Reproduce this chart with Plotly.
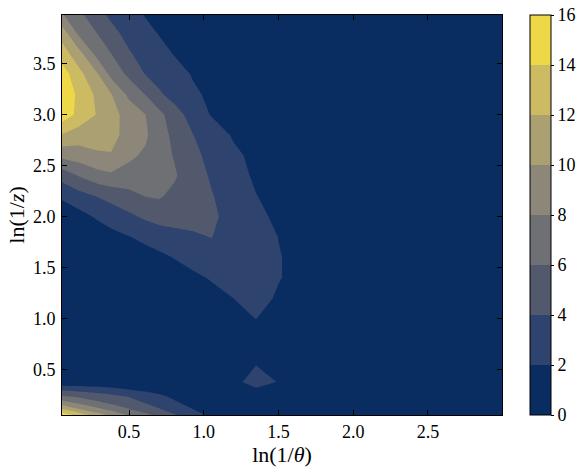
import plotly.graph_objects as go
from plotly.colors import sample_colorscale

# grid: columns are ln(1/theta), rows are ln(1/z)
x_ln_inv_theta = [0.051, 0.16, 0.29, 0.38, 0.50, 0.61, 0.70, 0.80, 0.93, 1.05, 1.20, 1.35, 1.50, 1.90, 2.996]
y_ln_inv_z = [0.05, 0.11, 0.17, 0.23, 0.30, 0.375, 0.60, 0.80, 1.20, 1.40, 1.60, 1.80,
              2.00, 2.20, 2.40, 2.60, 2.80, 3.00, 3.20, 3.40, 3.60, 3.80, 3.98]

# one row of estimated values per ln(1/z) level
z_y0_05 = [15.3, 13.4, 10.95, 9.47, 7.77, 6.51, 5.45, 4.24, 2.84, 1.58, 1.0, 0.6, 0.5, 0.3, 0.2]
z_y0_11 = [11.95, 10.02, 8.38, 7.33, 6.02, 4.95, 4.1, 3.16, 1.95, 1.2, 0.7, 0.6, 0.5, 0.3, 0.2]
z_y0_17 = [8.95, 7.62, 6.38, 5.63, 4.74, 3.92, 3.17, 2.33, 1.26, 0.8, 0.7, 0.9, 0.8, 0.4, 0.2]
z_y0_23 = [6.4, 5.78, 5.08, 4.59, 3.92, 3.1, 2.42, 1.67, 1.2, 0.9, 0.9, 1.2, 1.0, 0.5, 0.2]
z_y0_30 = [3.58, 3.35, 3.0, 2.6, 1.98, 1.6, 1.3, 1.0, 0.8, 0.8, 1.2, 1.91, 1.4, 0.6, 0.2]
z_y0_375 = [0.46, 0.46, 0.25, 0.3, 0.3, 0.3, 0.4, 0.5, 0.8, 1.2, 1.8, 2.3, 1.97, 0.8, 0.2]
z_y0_60 = [0.3, 0.3, 0.2, 0.2, 0.2, 0.3, 0.3, 0.4, 0.6, 0.9, 1.5, 1.88, 1.5, 0.6, 0.2]
z_y0_80 = [0.2, 0.2, 0.2, 0.2, 0.3, 0.3, 0.4, 0.5, 0.7, 0.9, 1.2, 1.55, 1.3, 0.7, 0.2]
z_y1_20 = [0.2, 0.2, 0.2, 0.3, 0.4, 0.5, 0.65, 0.8, 1.1, 1.48, 2.01, 2.5, 1.84, 0.8, 0.2]
z_y1_40 = [0.2, 0.2, 0.3, 0.4, 0.6, 0.8, 1.0, 1.3, 1.7, 2.13, 2.6, 2.7, 2.07, 0.9, 0.2]
z_y1_60 = [0.2, 0.3, 0.5, 0.7, 1.0, 1.35, 1.65, 2.06, 2.6, 3.1, 3.1, 2.75, 2.07, 0.9, 0.2]
z_y1_80 = [0.3, 0.5, 0.9, 1.4, 1.94, 2.4, 2.77, 3.19, 3.73, 4.05, 3.27, 2.62, 1.98, 0.9, 0.2]
z_y2_00 = [0.4, 1.29, 2.27, 2.85, 3.62, 4.35, 4.87, 5.0, 4.7, 4.3, 3.42, 2.5, 1.6, 0.9, 0.2]
z_y2_20 = [2.4, 3.19, 4.1, 4.64, 5.37, 6.05, 6.2, 5.56, 4.82, 4.13, 3.12, 2.05, 1.43, 0.9, 0.2]
z_y2_40 = [4.73, 6.05, 7.2, 7.6, 7.3, 7.1, 6.8, 6.25, 4.92, 3.79, 2.75, 1.71, 1.3, 0.8, 0.2]
z_y2_60 = [8.55, 9.0, 9.75, 9.9, 8.35, 7.7, 6.73, 5.92, 4.49, 3.45, 2.36, 1.55, 1.1, 0.7, 0.2]
z_y2_80 = [11.85, 11.0, 10.8, 10.5, 9.42, 8.3, 6.85, 5.58, 4.02, 3.02, 1.8, 1.4, 1.0, 0.6, 0.2]
z_y3_00 = [15.2, 13.54, 11.83, 10.69, 9.25, 8.02, 6.62, 4.91, 3.16, 1.9, 1.5, 1.1, 0.8, 0.5, 0.2]
z_y3_20 = [15.8, 13.57, 11.56, 10.11, 7.54, 5.93, 4.28, 3.31, 2.24, 1.73, 1.35, 1.0, 0.75, 0.5, 0.2]
z_y3_40 = [15.0, 12.73, 10.09, 7.42, 5.54, 3.93, 3.3, 2.6, 1.87, 1.5, 1.1, 0.8, 0.6, 0.45, 0.2]
z_y3_60 = [13.0, 10.83, 7.23, 6.02, 4.18, 3.27, 2.6, 1.94, 1.5, 1.15, 0.9, 0.7, 0.6, 0.4, 0.2]
z_y3_80 = [11.15, 7.71, 5.94, 4.6, 3.37, 2.5, 1.92, 1.6, 1.3, 1.0, 0.8, 0.65, 0.55, 0.4, 0.2]
z_y3_98 = [8.2, 6.58, 4.64, 3.62, 2.64, 1.9, 1.62, 1.3, 1.1, 0.9, 0.75, 0.6, 0.55, 0.4, 0.2]

z_grid = [z_y0_05, z_y0_11, z_y0_17, z_y0_23, z_y0_30, z_y0_375, z_y0_60, z_y0_80,
          z_y1_20, z_y1_40, z_y1_60, z_y1_80, z_y2_00, z_y2_20, z_y2_40, z_y2_60,
          z_y2_80, z_y3_00, z_y3_20, z_y3_40, z_y3_60, z_y3_80, z_y3_98]

levels = [0, 2, 4, 6, 8, 10, 12, 14, 16]
x_tick_vals = [0.5, 1.0, 1.5, 2.0, 2.5]
x_tick_text = ["0.5", "1.0", "1.5", "2.0", "2.5"]
y_tick_vals = [0.5, 1.0, 1.5, 2.0, 2.5, 3.0, 3.5]
y_tick_text = ["0.5", "1.0", "1.5", "2.0", "2.5", "3.0", "3.5"]
cbar_tick_vals = levels
cbar_tick_text = [str(v) for v in levels]

# band colours: cividis at the middle of each band (as matplotlib contourf does)
vmin, vmax = levels[0], levels[-1]
mids = [((levels[i] + levels[i + 1]) / 2 - vmin) / (vmax - vmin) for i in range(len(levels) - 1)]
band_colors = sample_colorscale("cividis", mids)
nb = len(band_colors)

# contour colorscale: bg (below 2) -> node 0, band [L, L+2] -> node L/2
contour_scale = [[k / (nb - 1), c] for k, c in enumerate(band_colors)]
# stepped colorscale for the colour bar
bar_scale = []
for k, c in enumerate(band_colors):
    bar_scale.append([k / nb, c])
    bar_scale.append([(k + 1) / nb, c])

FONT = "Liberation Serif"

fig = go.Figure()
fig.add_trace(go.Contour(
    x=x_ln_inv_theta, y=y_ln_inv_z, z=z_grid,
    autocontour=False,
    contours=dict(start=levels[1], end=levels[-2], size=levels[1] - levels[0],
                  coloring="fill", showlines=False),
    colorscale=contour_scale,
    line=dict(width=0, smoothing=0),
    showscale=False,
    hoverinfo="skip",
))
fig.add_trace(go.Scatter(
    x=[None], y=[None], mode="markers", showlegend=False, hoverinfo="skip",
    marker=dict(
        color=[vmin, vmax], cmin=vmin, cmax=vmax, colorscale=bar_scale, showscale=True,
        colorbar=dict(
            x=1.0636, xanchor="left", xpad=0, y=0.5, yanchor="middle", ypad=0,
            len=1, lenmode="fraction", thickness=21,
            outlinewidth=1, outlinecolor="black",
            tickmode="array", tickvals=cbar_tick_vals, ticktext=cbar_tick_text,
            ticks="outside", ticklen=3, tickwidth=1, tickcolor="black",
            tickfont=dict(family=FONT, size=18, color="black"),
        ),
    ),
))

axis_common = dict(
    ticks="inside", ticklen=5, tickwidth=1, tickcolor="black",
    showline=True, linecolor="black", linewidth=1, mirror="ticks",
    showgrid=False, zeroline=False, automargin=False,
    tickfont=dict(family=FONT, size=18, color="black"),
)
fig.update_xaxes(
    range=[x_ln_inv_theta[0], x_ln_inv_theta[-1]],
    tickmode="array", tickvals=x_tick_vals, ticktext=x_tick_text,
    ticklabelstandoff=0,
    title=dict(text="ln(1/<i>θ</i>)", font=dict(family=FONT, size=22, color="black"), standoff=0),
    **axis_common,
)
fig.update_yaxes(
    range=[y_ln_inv_z[0], y_ln_inv_z[-1]],
    tickmode="array", tickvals=y_tick_vals, ticktext=y_tick_text,
    ticklabelstandoff=2,
    title=dict(text="ln(1/<i>z</i>)", font=dict(family=FONT, size=22, color="black"), standoff=2),
    **axis_common,
)
fig.update_layout(
    width=583, height=471,
    margin=dict(l=62, r=81, t=15, b=56, autoexpand=False),
    paper_bgcolor="white", plot_bgcolor="white",
    font=dict(family=FONT, size=18, color="black"),
    showlegend=False,
)
fig.write_html("out.html", config={"displayModeBar": False},
               post_script="document.body.style.margin='0';")
